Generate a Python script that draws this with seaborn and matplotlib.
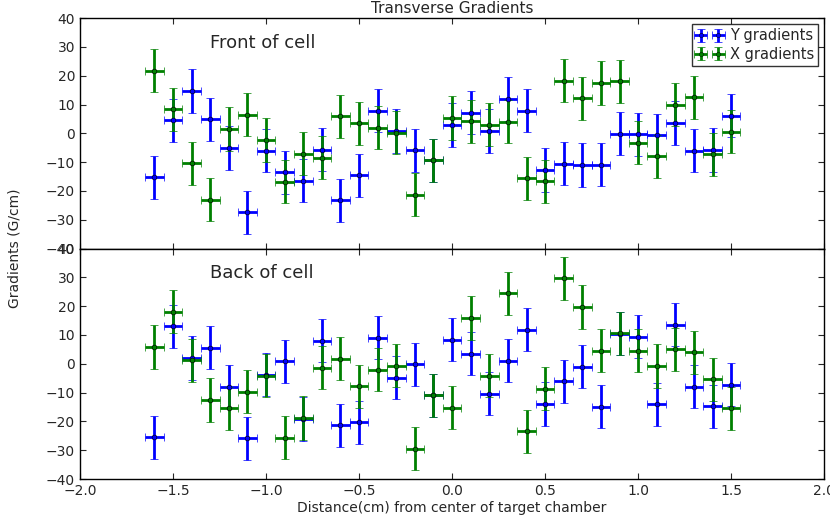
import numpy as np
import pandas as pd
import matplotlib
matplotlib.use("Agg")
import matplotlib.pyplot as plt
import seaborn as sns
from matplotlib.legend_handler import HandlerErrorbar

# ---- data ----
positions = [-1.6, -1.5, -1.4, -1.3, -1.2, -1.1, -1.0, -0.9, -0.8, -0.7, -0.6,
             -0.5, -0.4, -0.3, -0.2, -0.1, 0.0, 0.1, 0.2, 0.3, 0.4, 0.5,
             0.6, 0.7, 0.8, 0.9, 1.0, 1.1, 1.2, 1.3, 1.4, 1.5]

front_y = [-15.3, 4.5, 14.7, 4.8, -5.1, -27.4, -6.0, -13.6, -16.4, -5.7, -23.3,
           -14.6, 7.8, 0.8, -5.9, -9.3, 2.9, 7.1, 0.8, 11.9, 7.9, -12.7,
           -10.6, -11.0, -10.9, -0.1, -0.3, -0.7, 3.6, -6.0, -5.8, 6.1]
front_x = [21.8, 8.3, -10.4, -23.0, 1.5, 6.4, -2.3, -16.8, -7.1, -8.5, 5.9,
           3.5, 1.9, 0.2, -21.3, -9.3, 5.3, 4.2, 3.0, 4.0, -15.6, -16.6,
           18.2, 12.2, 17.5, 18.0, -3.3, -8.0, 10.0, 12.5, -7.3, 0.6]

back_y = [-25.5, 13.0, 2.0, 5.6, -7.9, -25.9, -3.8, 0.8, -19.2, 8.0, -21.4,
          -20.3, 9.0, -4.9, -0.2, -11.0, 8.4, 3.5, -10.4, 1.0, 11.8, -14.0,
          -6.1, -1.0, -14.9, 10.4, 9.4, -14.1, 13.5, -8.0, -14.8, -7.3]
back_x = [5.8, 18.1, 1.2, -12.6, -15.4, -9.7, -4.1, -25.7, -18.8, -1.3, 1.8,
          -7.8, -2.0, -0.7, -29.5, -11.0, -15.3, 15.9, -4.2, 24.5, -23.4, -8.6,
          29.7, 19.7, 4.6, 10.6, 4.6, -0.8, 5.0, 4.0, -5.4, -15.5]

y_err = 7.5
x_err = 0.05
series_names = ["Y gradients", "X gradients"]
series_colors = ["#0000ff", "#008000"]

# ---- style ----
sns.set_style("ticks")
plt.rcParams.update({
    "font.family": ["DejaVu Sans"],
    "xtick.direction": "in",
    "ytick.direction": "in",
    "xtick.top": True,
    "ytick.right": True,
    "xtick.major.size": 4,
    "ytick.major.size": 4,
    "axes.edgecolor": "black",
    "axes.linewidth": 1.0,
    "xtick.labelsize": 10,
    "ytick.labelsize": 10,
    "axes.unicode_minus": True,
})

fig, axes = plt.subplots(2, 1, figsize=(8.3, 5.17), dpi=100, sharex=True)
fig.subplots_adjust(left=0.0964, right=0.993, top=0.965, bottom=0.0735, hspace=0)

panels = [("Front of cell", front_y, front_x), ("Back of cell", back_y, back_x)]

for ax, (label, ys, xs) in zip(axes, panels):
    handles = []
    for name, vals, col in zip(series_names, [ys, xs], series_colors):
        df = pd.DataFrame({"pos": positions, "val": vals})
        h = ax.errorbar(df["pos"], df["val"], xerr=x_err, yerr=y_err, fmt=".",
                        color=col, ecolor=col, elinewidth=2, capsize=3,
                        capthick=1, markersize=6,
                        markeredgecolor="#003300" if col == "#008000" else "#000044",
                        markeredgewidth=0.5, label=name)
        handles.append(h)
        sns.scatterplot(data=df, x="pos", y="val", ax=ax, color=col, s=12,
                        edgecolor="k", linewidth=0.4, zorder=5, legend=False)
    ax.set_xlim(-2, 2)
    ax.set_ylim(-40, 40)
    ax.set_yticks(np.arange(-40, 41, 10))
    ax.set_xticks(np.arange(-2.0, 2.01, 0.5))
    ax.set_xlabel("")
    ax.set_ylabel("")
    ax.text(-1.30, 31.5, label, fontsize=13, va="center", ha="left")
    ax.tick_params(which="both", direction="in", top=True, right=True)

axes[0].set_title("Transverse Gradients", fontsize=11, pad=4)
leg = axes[0].legend(handles=handles, labels=series_names, loc="upper right",
                     numpoints=2, fontsize=10.5, fancybox=False, frameon=True,
                     edgecolor="black", borderaxespad=0.4, handlelength=1.8,
                     handletextpad=0.5, borderpad=0.3, labelspacing=0.25,
                     handler_map={type(handles[0]): HandlerErrorbar(xerr_size=0.45, yerr_size=0.45)})
leg.get_frame().set_linewidth(1.0)
axes[0].tick_params(labelbottom=False)
axes[1].set_xticklabels([f"{v:.1f}".replace("-", "\u2212") for v in np.arange(-2.0, 2.01, 0.5)])
axes[1].set_xlabel("Distance(cm) from center of target chamber", fontsize=10, labelpad=2)
fig.text(0.017, 0.52, "Gradients (G/cm)", rotation=90, va="center", ha="center", fontsize=10)

fig.savefig("out.png", dpi=100)
